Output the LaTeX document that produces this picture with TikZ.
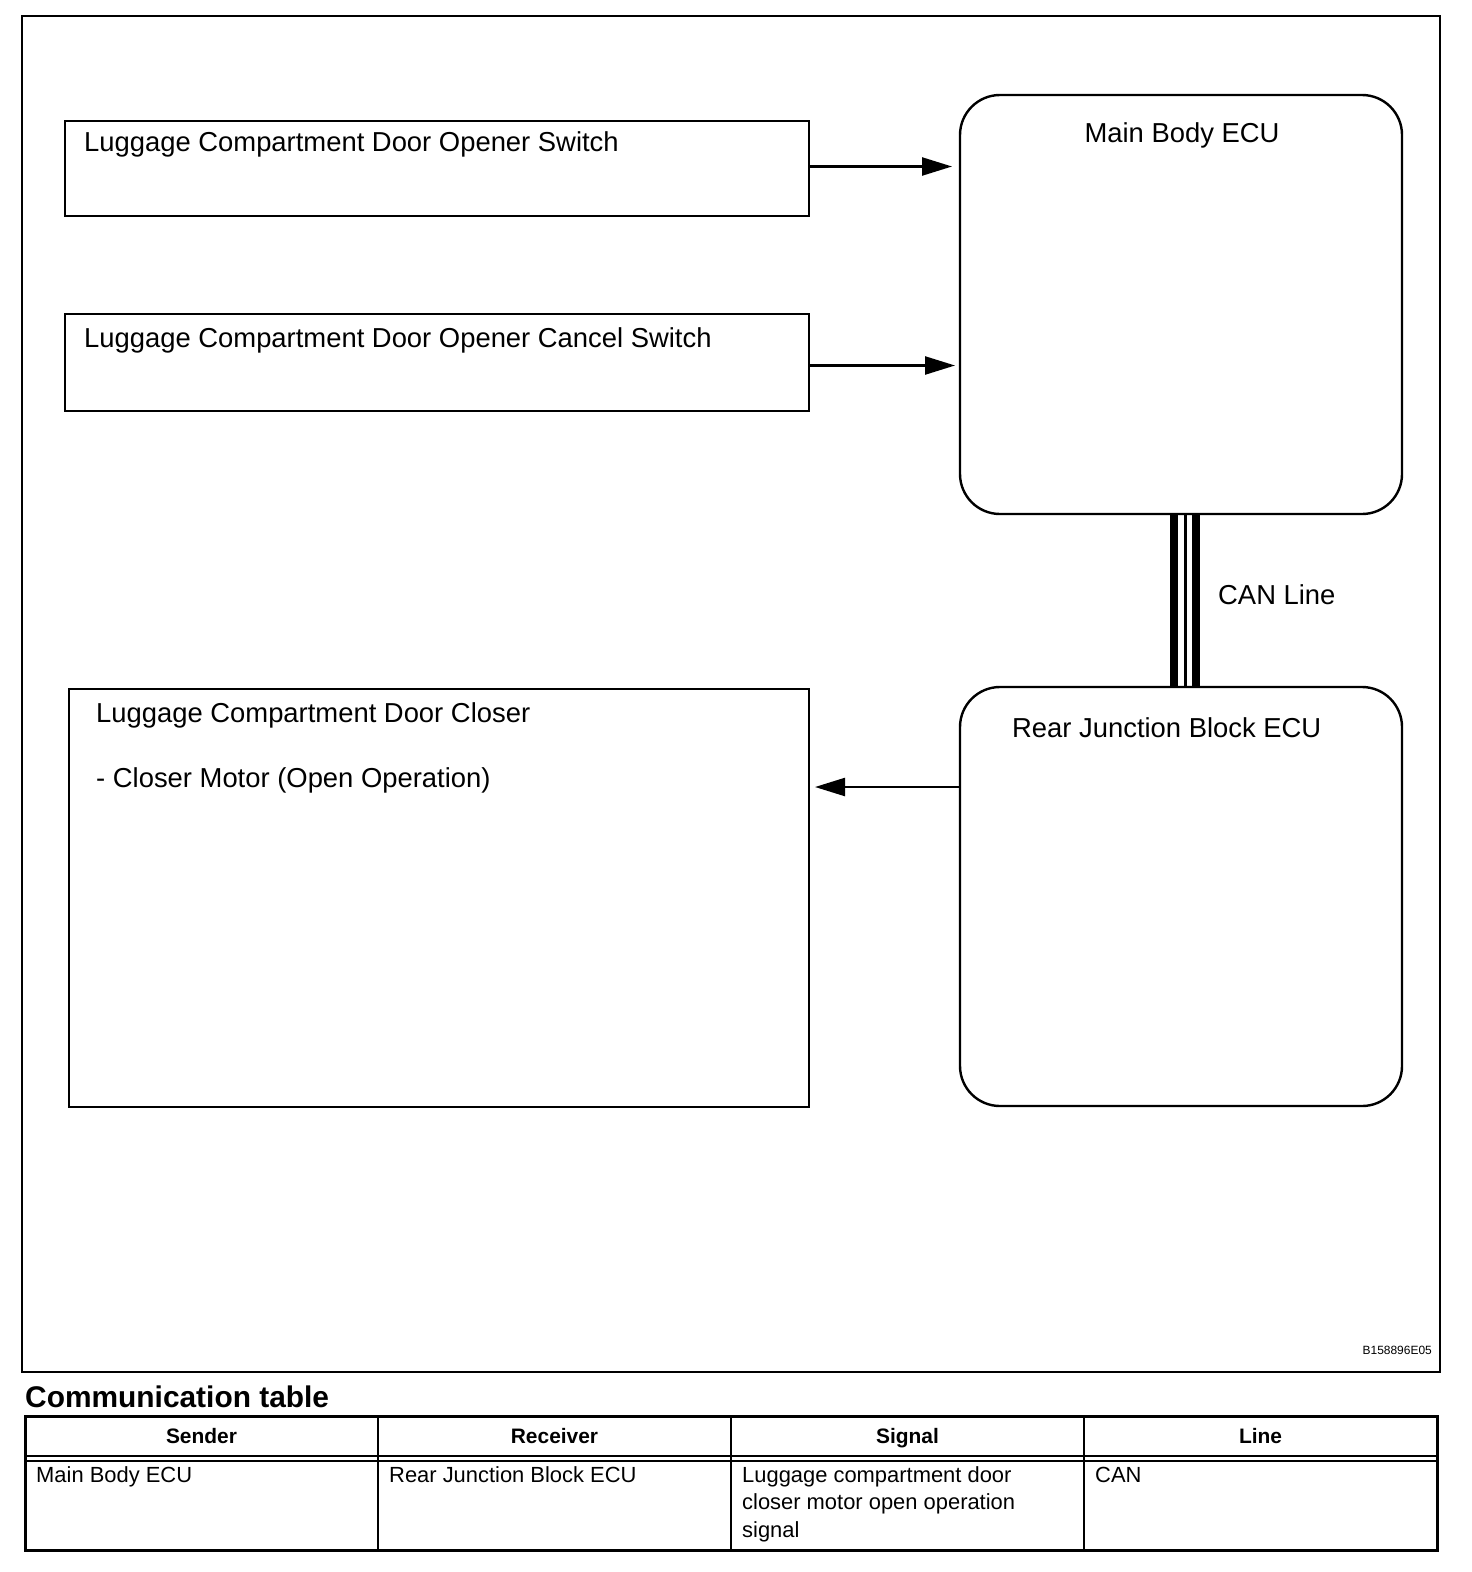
\documentclass[tikz,border=0pt]{standalone}
\usepackage{fontspec}
\setmainfont{Liberation Sans}
\usetikzlibrary{arrows.meta, positioning, calc}
\tikzstyle{arrow} = [line width=2.4bp, -{Triangle[length=30bp,width=18bp]}]
\tikzstyle{unit} = [draw, line width=2.4bp, inner sep=0pt, outer sep=0pt, anchor=north west]
\tikzstyle{ecu} = [unit, rounded corners=40bp]
\tikzstyle{lbl} = [inner sep=0pt, anchor=base west, font=\fontsize{27.5}{32}\selectfont]
\tikzstyle{hcell} = [draw, line width=2bp, inner sep=0pt, outer sep=0pt, anchor=north west,
  minimum width=353bp, minimum height=40bp, text height=19.5pt, text depth=4.5pt,
  font=\bfseries\fontsize{21}{26}\selectfont]
\tikzstyle{bcell} = [draw, line width=2bp, inner sep=0pt, outer sep=0pt, anchor=north west,
  minimum width=353bp, minimum height=89bp]
\tikzstyle{btxt} = [inner sep=0pt, anchor=north west, align=left, font=\fontsize{22}{28}\selectfont]

\begin{document}
\begin{tikzpicture}[x=1bp, y=-1bp]
    \useasboundingbox (0,0) rectangle (1472,1572);

    % Frame
    \draw[line width=2.4bp] (22,16) rectangle (1440,1372);

    % Switches
    \node[unit, minimum width=744bp, minimum height=95bp] (opener) at (65,121) {};
    \node[lbl] (opener_txt) at ($(opener.north west)+(19,31)$) {Luggage Compartment Door Opener Switch};
    \node[unit, minimum width=744bp, minimum height=97bp] (cancel) at (65,314) {};
    \node[lbl] (cancel_txt) at ($(cancel.north west)+(19,33)$) {Luggage Compartment Door Opener Cancel Switch};

    % Door Closer
    \node[unit, minimum width=740bp, minimum height=418bp] (closer) at (69,689) {};
    \node[lbl] (closer_txt) at ($(closer.north west)+(27,33)$) {Luggage Compartment Door Closer};
    \node[lbl] (motor_txt) at ($(closer.north west)+(27,98)$) {- Closer Motor (Open Operation)};

    % ECUs
    \node[ecu, minimum width=442bp, minimum height=419bp] (mainecu) at (960,95) {};
    \node[lbl, anchor=base] (mainecu_txt) at ($(mainecu.north)+(1,48)$) {Main Body ECU};
    \node[ecu, minimum width=442bp, minimum height=419bp] (rjb) at (960,687) {};
    \node[lbl] (rjb_txt) at ($(rjb.north west)+(52,50)$) {Rear Junction Block ECU};

    % CAN Line
    \foreach \dx/\w in {-7/8, 4.5/3, 15/8}
        \draw[line width=\w bp] ($(mainecu.south)+(\dx,0)$) -- ($(rjb.north)+(\dx,0)$);
    \node[lbl] (can_txt) at ($(mainecu.south)+(37,90)$) {CAN Line};

    % Arrows
    \draw[arrow, shorten >=8bp] ([yshift=2bp]opener.east) -- ([yshift=2bp]opener.east -| mainecu.west);
    \draw[arrow, shorten >=5bp] ([yshift=-3bp]cancel.east) -- ([yshift=-3bp]cancel.east -| mainecu.west);
    \draw[arrow, shorten >=6bp] (rjb.west |- motor_txt.base) -- (closer.east |- motor_txt.base);

    \node[inner sep=0pt, anchor=base east, font=\fontsize{12}{14}\selectfont] (fig_id) at (1432,1354) {B158896E05};

    % Communication table
    \node[inner sep=0pt, anchor=base west, font=\bfseries\fontsize{30}{36}\selectfont] (tab_title) at (25,1407) {Communication table};
    \foreach \i/\head in {0/Sender, 1/Receiver, 2/Signal, 3/Line}
        \node[hcell] (h\i) at (25+353*\i, 1416) {\head};
    \foreach \i/\body in {0/{Main Body ECU}, 1/{Rear Junction Block ECU},
        2/{Luggage compartment door\\closer motor open operation\\signal}, 3/{CAN}} {
        \node[bcell] (b\i) at (25+353*\i, 1461) {};
        \node[btxt] (b\i_txt) at ($(b\i.north west)+(11,5)$) {\vphantom{Ld}\body};
        \draw[line width=2bp] (h\i.south west) -- (b\i.north west);
    }
    \draw[line width=2bp] (h3.south east) -- (b3.north east);
    \draw[line width=3bp] (h0.north west) rectangle (b3.south east);
\end{tikzpicture}
\end{document}
